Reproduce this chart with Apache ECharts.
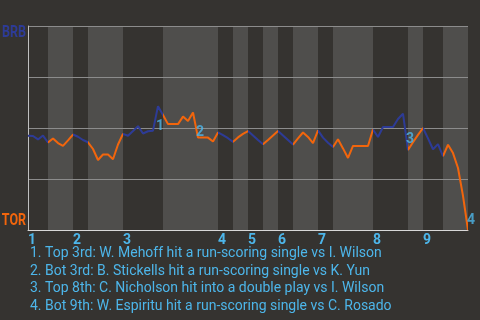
<!DOCTYPE html>
<html>
<head>
<meta charset="utf-8">
<script src="https://cdn.jsdelivr.net/npm/echarts@6/dist/echarts.min.js"></script>
<style>
html,body{margin:0;padding:0;background:#353330;}
#c{width:480px;height:320px;}
</style>
</head>
<body>
<div id="c"></div>
<script>
// ---- data ----
const brbWinProb = [
  0.462, 0.461, 0.444, 0.463, 0.429, 0.449, 0.426, 0.412, 0.439, 0.468,
  0.457, 0.441, 0.430, 0.397, 0.343, 0.370, 0.370, 0.347, 0.419, 0.471,
  0.462, 0.485, 0.509, 0.473, 0.484, 0.487, 0.607, 0.564, 0.519, 0.519,
  0.519, 0.556, 0.534, 0.576, 0.453, 0.453, 0.453, 0.434, 0.478, 0.465,
  0.450, 0.432, 0.454, 0.471, 0.485, 0.463, 0.441, 0.420, 0.441, 0.463,
  0.485, 0.463, 0.441, 0.419, 0.449, 0.478, 0.456, 0.426, 0.488, 0.453,
  0.428, 0.407, 0.445, 0.400, 0.353, 0.412, 0.412, 0.412, 0.412, 0.493,
  0.456, 0.505, 0.505, 0.505, 0.544, 0.570, 0.392, 0.430, 0.466, 0.500,
  0.449, 0.396, 0.421, 0.362, 0.418, 0.377, 0.304, 0.167, 0.000
];
const halfInningBounds = [0, 4, 9, 12, 19, 27, 38, 41, 44, 47, 50, 53, 58, 61, 69, 76, 79, 83, 88];
const inningStarts = [0, 9, 19, 38, 44, 50, 58, 69, 79];
const inningLabels = ['1', '2', '3', '4', '5', '6', '7', '8', '9'];
const eventSteps = [26, 34, 76, 88];
const eventNotes = [
  '1. Top 3rd: W. Mehoff hit a run-scoring single vs I. Wilson',
  '2. Bot 3rd: B. Stickells hit a run-scoring single vs K. Yun',
  '3. Top 8th: C. Nicholson hit into a double play vs I. Wilson',
  '4. Bot 9th: W. Espiritu hit a run-scoring single vs C. Rosado'
];
const awayTeam = 'BRB';
const homeTeam = 'TOR';

// ---- styles ----
const BLUE = '#2d3b96';
const ORANGE = '#f2650c';
const LABEL = '#4db6ea';
const BAND = '#4f4e4c';
const FONT = 'Roboto, sans-serif';
const labelOffsets = [[2, 20], [2, -5], [2, -11], [3, -10]];

const bottomHalves = [];
for (let i = 1; i < halfInningBounds.length - 1; i += 2) {
  bottomHalves.push([halfInningBounds[i], halfInningBounds[i + 1]]);
}
const pieces = halfInningBounds.slice(0, -1).map((b, i) => {
  const p = { gte: b, color: i % 2 ? ORANGE : BLUE };
  if (i === halfInningBounds.length - 2) p.lte = halfInningBounds[i + 1];
  else p.lt = halfInningBounds[i + 1];
  return p;
});

const chart = echarts.init(document.getElementById('c'), null, { renderer: 'canvas' });
chart.setOption({
  backgroundColor: '#353330',
  animation: false,
  grid: { left: 28, right: 12, top: 26, bottom: 90 },
  xAxis: {
    type: 'value', min: 0, max: halfInningBounds[halfInningBounds.length - 1],
    axisLine: { show: true, lineStyle: { color: '#d8d8d8', width: 1 } },
    axisTick: { show: false },
    splitLine: { show: false },
    axisLabel: {
      customValues: inningStarts,
      formatter: v => inningLabels[inningStarts.indexOf(v)],
      align: 'left', margin: 3,
      color: LABEL, fontFamily: FONT, fontWeight: 'bold', fontSize: 14
    }
  },
  yAxis: {
    type: 'value', min: 0, max: 1, interval: 0.25,
    axisLine: { show: true, lineStyle: { color: '#c0c0c0', width: 1 } },
    axisTick: { show: false },
    axisLabel: { show: false },
    splitLine: { show: true, lineStyle: { color: '#8c8c8c', width: 1 } }
  },
  visualMap: {
    show: false, type: 'piecewise', seriesIndex: 1, dimension: 0, pieces: pieces
  },
  series: [
    {
      type: 'custom', z: -1, silent: true,
      data: bottomHalves,
      encode: { x: [0, 1] },
      renderItem: (params, api) => {
        const a = api.coord([api.value(0), 1]);
        const b = api.coord([api.value(1), 0]);
        return { type: 'rect', shape: { x: a[0], y: a[1], width: b[0] - a[0], height: b[1] - a[1] }, style: { fill: BAND } };
      }
    },
    {
      type: 'line', z: 3,
      data: brbWinProb.map((v, i) => [i, v]),
      showSymbol: false, symbol: 'none',
      lineStyle: { width: 2 }
    },
    {
      type: 'scatter', z: 4, silent: true,
      symbolSize: 1, itemStyle: { color: 'rgba(0,0,0,0)' },
      data: eventSteps.map((s, k) => ({
        value: [s, brbWinProb[s]],
        label: { offset: labelOffsets[k] }
      })),
      label: {
        show: true, position: 'inside',
        formatter: p => String(p.dataIndex + 1),
        color: LABEL, fontFamily: FONT, fontWeight: 'bold', fontSize: 14
      }
    }
  ],
  graphic: [
    {
      type: 'text', x: 26, y: 33, scaleX: 0.78,
      style: { text: awayTeam, fill: BLUE, font: 'bold 16px ' + FONT, align: 'right', verticalAlign: 'middle' }
    },
    {
      type: 'text', x: 26, y: 221, scaleX: 0.78,
      style: { text: homeTeam, fill: ORANGE, font: 'bold 16px ' + FONT, align: 'right', verticalAlign: 'middle' }
    },
    {
      type: 'text', x: 30, y: 245,
      style: { text: eventNotes.join('\n'), fill: LABEL, font: '14px ' + FONT, lineHeight: 17.5, align: 'left', verticalAlign: 'top' }
    }
  ]
});
</script>
</body>
</html>
